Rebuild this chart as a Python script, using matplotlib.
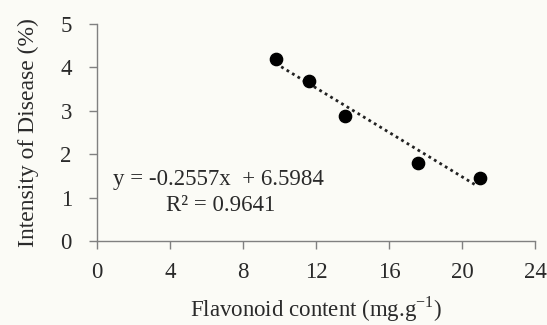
import matplotlib.pyplot as plt
import numpy as np

plt.rcParams['font.family'] = ['Liberation Serif', 'DejaVu Serif']

# flavonoid content vs intensity of disease
flavonoid = [9.8, 11.6, 13.6, 17.6, 21.0]
disease = [4.19, 3.69, 2.88, 1.80, 1.45]
slope = -0.2557
intercept = 6.5984
r2 = 0.9641
x_ticks = [0, 4, 8, 12, 16, 20, 24]
y_ticks = [0, 1, 2, 3, 4, 5]

bg = '#fbfbf6'
fs = 16.5
fig = plt.figure(figsize=(5.47, 3.25), dpi=100, facecolor=bg)
ax = fig.add_axes([0.177, 0.258, 0.801, 0.668])
ax.set_facecolor(bg)

ax.scatter(flavonoid, disease, s=78, color='black', zorder=3)

xs = np.array([min(flavonoid), max(flavonoid) - 0.3])
ax.plot(xs, slope * xs + intercept, color='#222222', linestyle=(0, (1, 1.3)),
        linewidth=2.0, zorder=2)

ax.set_xlim(0, 24)
ax.set_ylim(0, 5)
ax.set_xticks(x_ticks)
ax.set_yticks(y_ticks)

for s in ['top', 'right']:
    ax.spines[s].set_visible(False)
for s in ['left', 'bottom']:
    ax.spines[s].set_color('#808080')
    ax.spines[s].set_linewidth(1.0)
ax.tick_params(axis='both', direction='out', length=6, width=1.0,
               color='#808080', labelsize=fs, labelcolor='#2a2a2a')
ax.tick_params(axis='x', pad=9)
ax.tick_params(axis='y', pad=12)

ax.set_xlabel('Flavonoid content (mg.g$^{\\mathregular{-1}}$)', fontsize=fs,
              color='#2a2a2a', labelpad=8)
ax.set_ylabel('Intensity of Disease (%)', fontsize=fs + 0.5, color='#2a2a2a',
              labelpad=15)

ax.text(0.88, 1.41, f'y = {slope}x  + {intercept}', fontsize=fs, color='#2a2a2a',
        va='center')
ax.text(3.8, 0.83, f'R\u00b2 = {r2}', fontsize=fs, color='#2a2a2a', va='center')

fig.savefig('out.png', dpi=100, facecolor=bg)
